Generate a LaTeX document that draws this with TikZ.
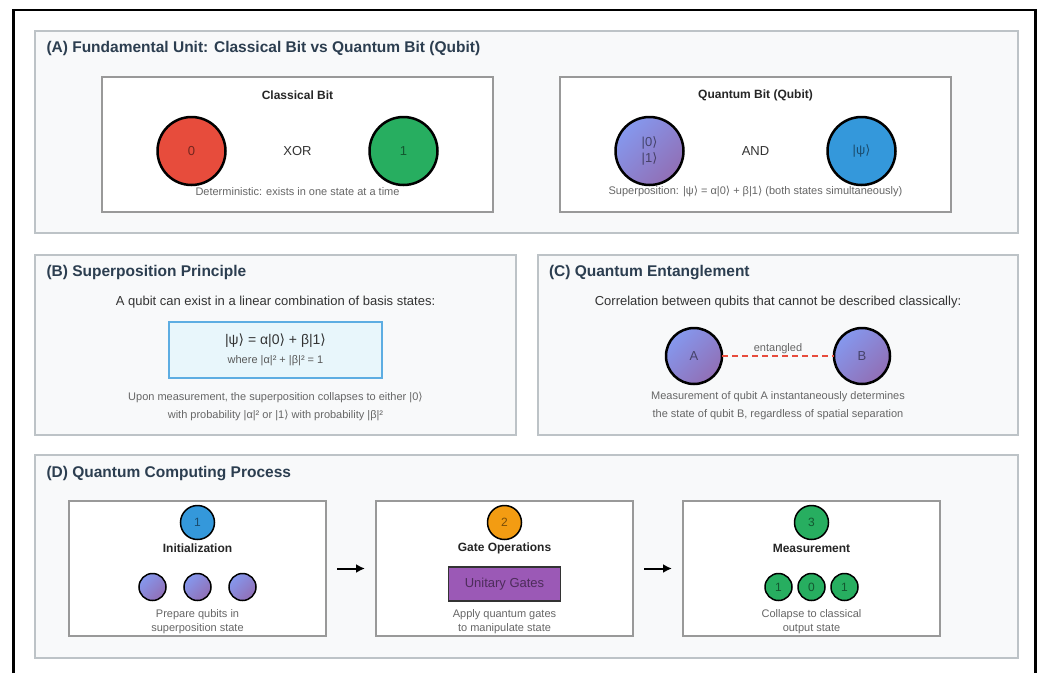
\documentclass[tikz,border=0pt]{standalone}
\usepackage{fontspec}
\setmainfont{Liberation Sans}
\newfontfamily\brkfont{DejaVu Sans}
\newcommand{\ketr}{{\brkfont ⟩}}
\usetikzlibrary{arrows.meta}
\definecolor{panelline}{HTML}{BDC3C7}
\definecolor{panelbg}{HTML}{F8F9FA}
\definecolor{cardline}{HTML}{999999}
\definecolor{headblue}{HTML}{2C3E50}
\definecolor{bitred}{HTML}{E74C3C}
\definecolor{bitgreen}{HTML}{27AE60}
\definecolor{bitblue}{HTML}{3498DB}
\definecolor{bitorange}{HTML}{F39C12}
\definecolor{gatepurple}{HTML}{9B59B6}
\definecolor{qlight}{HTML}{8598EE}
\definecolor{qdark}{HTML}{916FB5}
\definecolor{formbg}{HTML}{E8F6FB}
\definecolor{formline}{HTML}{5DADE2}

\begin{document}
\begin{tikzpicture}[x=1pt,y=-1pt,
  every node/.style={inner sep=0pt,outer sep=0pt},
  panel/.style={draw=panelline,fill=panelbg,line width=1.5pt,anchor=north west},
  card/.style={draw=cardline,fill=white,line width=1.3pt,anchor=north west},
  heading/.style={anchor=west,text=headblue,font=\bfseries\fontsize{15.5}{18}\selectfont},
  cardhead/.style={text=black!85,font=\bfseries\fontsize{12}{14}\selectfont},
  body/.style={text=black!80,font=\fontsize{13}{16}\selectfont},
  note/.style={text=black!60,font=\fontsize{11}{18}\selectfont,align=center},
  stepnote/.style={note,font=\fontsize{11}{14}\selectfont},
  bit/.style={circle,draw=black,line width=2.5pt,minimum size=68pt,text=black,
    text opacity=0.5,font=\fontsize{13}{16}\selectfont,align=center},
  qubit/.style={top color=qlight,bottom color=qdark,shading angle=45},
  stepnum/.style={bit,line width=1.5pt,minimum size=34pt,font=\fontsize{12}{14}\selectfont},
  dot/.style={bit,line width=1.5pt,minimum size=27pt,font=\fontsize{12}{14}\selectfont},
  entl/.style={draw=bitred,line width=2pt,dash pattern=on 6pt off 4pt},
  flow/.style={-{Latex[length=9pt,width=9pt]},line width=2pt,shorten <=11pt,shorten >=11pt}]
\useasboundingbox (0,0) rectangle (1044,673);
\fill[white] (0,0) rectangle (1044,673);
\draw[line width=2.5pt] (13.5,673) -- (13.5,10) -- (1035.5,10) -- (1035.5,673);

% (A)
\node[panel,minimum width=983pt,minimum height=202pt] (pA) at (35,31) {};
\node[heading] (tA) at (46.5,48) {(A) Fundamental Unit: Classical Bit vs Quantum Bit (Qubit)};
\node[card,minimum width=391pt,minimum height=135pt] (cbit) at (102,77) {};
\node[cardhead] (cbitt) at (297.5,95.5) {Classical Bit};
\node[bit,fill=bitred] (zero) at (191.5,151) {0};
\node[body] (xor) at (297.5,151) {XOR};
\node[bit,fill=bitgreen] (one) at (403.5,151) {1};
\node[note] (cbitn) at (297.5,192) {Deterministic: exists in one state at a time};
\node[card,minimum width=391pt,minimum height=135pt] (qbit) at (560,77) {};
\node[cardhead] (qbitt) at (755.5,95.5) {Quantum Bit (Qubit)};
\node[bit,qubit] (both) at (649.5,151) {|0\ketr\\|1\ketr};
\node[body] (and) at (755.5,151) {AND};
\node[bit,fill=bitblue] (psi) at (861.5,151) {|ψ\ketr};
\node[note] (qbitn) at (755.5,191) {Superposition: |ψ\ketr{} = α|0\ketr{} + β|1\ketr{} (both states simultaneously)};

% (B)
\node[panel,minimum width=481pt,minimum height=180pt] (pB) at (35,255) {};
\node[heading] (tB) at (46.5,272.5) {(B) Superposition Principle};
\node[body] (supt) at (275.5,302.5) {A qubit can exist in a linear combination of basis states:};
\node[draw=formline,fill=formbg,line width=1.5pt,minimum width=213pt,minimum height=56pt] (form) at (275.5,350) {};
\node[body,font=\fontsize{14}{16}\selectfont] (forma) at (275.5,341) {|ψ\ketr{} = α|0\ketr{} + β|1\ketr};
\node[note,text=black!65] (formb) at (275.5,361) {where |α|² + |β|² = 1};
\node[note] (supn) at (275.5,406) {Upon measurement, the superposition collapses to either |0\ketr\\
  with probability |α|² or |1\ketr{} with probability |β|²};

% (C)
\node[panel,minimum width=480pt,minimum height=180pt] (pC) at (538,255) {};
\node[heading] (tC) at (549,272.5) {(C) Quantum Entanglement};
\node[body] (entt) at (778,302.5) {Correlation between qubits that cannot be described classically:};
\node[bit,qubit,minimum size=56pt] (qa) at (694,356) {A};
\node[bit,qubit,minimum size=56pt] (qb) at (862,356) {B};
\draw[entl] (qa) -- (qb) node (entlbl) [midway,above=2.5pt,note] {entangled};
\node[note] (entn) at (778,406) {Measurement of qubit A instantaneously determines\\
  the state of qubit B, regardless of spatial separation};

% (D)
\node[panel,minimum width=983pt,minimum height=203pt] (pD) at (35,455) {};
\node[heading] (tD) at (46.5,473.5) {(D) Quantum Computing Process};
\node[card,minimum width=257pt,minimum height=135pt] (init) at (69,501) {};
\node[card,minimum width=257pt,minimum height=135pt] (gate) at (376,501) {};
\node[card,minimum width=257pt,minimum height=135pt] (meas) at (683,501) {};
\draw[flow] (init) -- (gate);
\draw[flow] (gate) -- (meas);

\node[stepnum,fill=bitblue] (n1) at (197.5,522.5) {1};
\node[cardhead] (initt) at (197.5,548) {Initialization};
\node[dot,qubit] (qi1) at (152.5,587) {};
\node[dot,qubit] (qi2) at (197.5,587) {};
\node[dot,qubit] (qi3) at (242.5,587) {};
\node[stepnote] (initn) at (197.5,622) {Prepare qubits in\\superposition state};

\node[stepnum,fill=bitorange] (n2) at (504.5,522.5) {2};
\node[cardhead] (gatet) at (504.5,548) {Gate Operations};
\node[draw=black!80,fill=gatepurple,line width=1.5pt,minimum width=112pt,minimum height=34pt,
  text=black,text opacity=0.5,font=\fontsize{13}{16}\selectfont] (unit) at (504.5,584) {Unitary Gates};
\node[stepnote] (gaten) at (504.5,622) {Apply quantum gates\\to manipulate state};

\node[stepnum,fill=bitgreen] (n3) at (811.5,522.5) {3};
\node[cardhead] (meast) at (811.5,548) {Measurement};
\node[dot,fill=bitgreen] (m1) at (778.5,587) {1};
\node[dot,fill=bitgreen] (m2) at (811.5,587) {0};
\node[dot,fill=bitgreen] (m3) at (844.5,587) {1};
\node[stepnote] (measn) at (811.5,622) {Collapse to classical\\output state};
\end{tikzpicture}
\end{document}
